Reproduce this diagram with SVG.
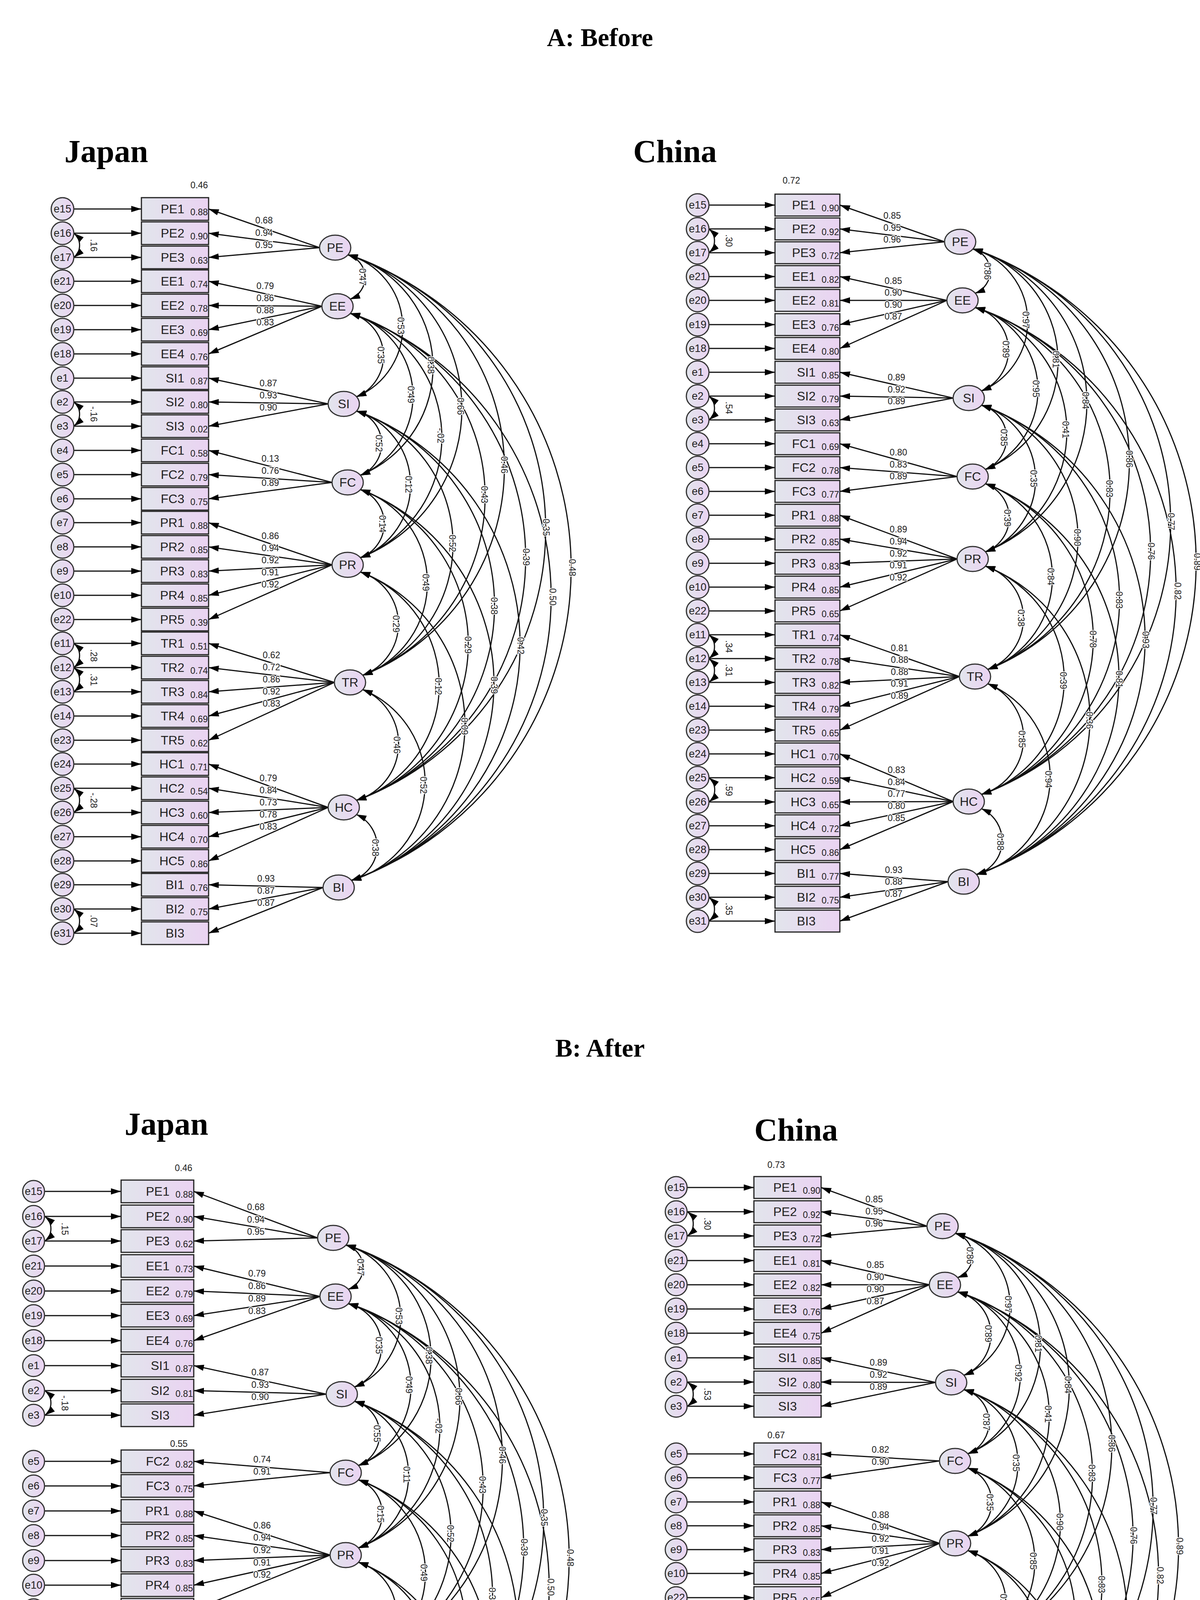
<svg xmlns="http://www.w3.org/2000/svg" width="3072" height="4974" viewBox="0 0 3072 4974">
<style>
text{font-family:"Liberation Sans",Arial,sans-serif;fill:#222}
.ti{font-family:"Liberation Serif","Times New Roman",serif;font-weight:bold;font-size:66px;text-anchor:middle;fill:#000}
.co{font-family:"Liberation Serif","Times New Roman",serif;font-weight:bold;font-size:82px;text-anchor:middle;fill:#000}
.e{fill:url(#g);stroke:#333;stroke-width:3}
.et{font-size:27px;text-anchor:middle}
.b{fill:url(#g);stroke:#222;stroke-width:3}
.it{font-size:32px;text-anchor:end}
.r{font-size:23px;text-anchor:end}
.l{fill:url(#g);stroke:#333;stroke-width:3}
.lt{font-size:32px;text-anchor:middle}
.a{stroke:#111;stroke-width:3;fill:none;marker-end:url(#ah)}
.c{stroke:#111;stroke-width:3;fill:none;marker-end:url(#ah);marker-start:url(#ah)}
.ll{font-size:23px;text-anchor:middle;paint-order:stroke;stroke:#fff;stroke-width:4}
.cl{font-size:23px;text-anchor:middle;paint-order:stroke;stroke:#fff;stroke-width:4}
.sm{font-size:23px;text-anchor:middle}
</style>
<defs>
<linearGradient id="g" x1="0" y1="0" x2="1" y2="0"><stop offset="0" stop-color="#e2e5ec"/><stop offset="1" stop-color="#ead3f2"/></linearGradient>
<marker id="ah" viewBox="0 0 10 10" refX="10" refY="5" markerWidth="26" markerHeight="16" markerUnits="userSpaceOnUse" orient="auto-start-reverse" preserveAspectRatio="none"><path d="M0,0 L10,5 L0,10 z" fill="#000"/></marker>
<g id="arcs">
<path class="c" d="M890 652 A60 60 0 0 1 896 766"/>
<path class="c" d="M890 652 A193 193 0 0 1 912 1016"/>
<path class="c" d="M890 652 A299 299 0 0 1 922 1217"/>
<path class="c" d="M890 652 A411 411 0 0 1 922 1428"/>
<path class="c" d="M890 652 A571 571 0 0 1 928 1729"/>
<path class="c" d="M890 652 A740 740 0 0 1 912 2049"/>
<path class="c" d="M890 652 A849 849 0 0 1 899 2254"/>
<path class="c" d="M896 802 A113 113 0 0 1 912 1016"/>
<path class="c" d="M896 802 A220 220 0 0 1 922 1217"/>
<path class="c" d="M896 802 A332 332 0 0 1 922 1428"/>
<path class="c" d="M896 802 A491 491 0 0 1 928 1729"/>
<path class="c" d="M896 802 A661 661 0 0 1 912 2049"/>
<path class="c" d="M896 802 A770 770 0 0 1 899 2254"/>
<path class="c" d="M912 1052 A87 87 0 0 1 922 1217"/>
<path class="c" d="M912 1052 A199 199 0 0 1 922 1428"/>
<path class="c" d="M912 1052 A359 359 0 0 1 928 1729"/>
<path class="c" d="M912 1052 A528 528 0 0 1 912 2049"/>
<path class="c" d="M912 1052 A637 637 0 0 1 899 2254"/>
<path class="c" d="M922 1253 A93 93 0 0 1 922 1428"/>
<path class="c" d="M922 1253 A252 252 0 0 1 928 1729"/>
<path class="c" d="M922 1253 A422 422 0 0 1 912 2049"/>
<path class="c" d="M922 1253 A531 531 0 0 1 899 2254"/>
<path class="c" d="M922 1464 A140 140 0 0 1 928 1729"/>
<path class="c" d="M922 1464 A310 310 0 0 1 912 2049"/>
<path class="c" d="M922 1464 A419 419 0 0 1 899 2254"/>
<path class="c" d="M928 1765 A151 151 0 0 1 912 2049"/>
<path class="c" d="M928 1765 A259 259 0 0 1 899 2254"/>
<path class="c" d="M912 2085 A90 90 0 0 1 899 2254"/>
</g>
</defs>
<rect width="3072" height="4974" fill="#fff"/>
<text class="ti" x="1536" y="118">A: Before</text>
<text class="ti" x="1536" y="2705">B: After</text>
<text class="co" x="272" y="415">Japan</text>
<text class="co" x="1728" y="415">China</text>
<text class="co" x="426" y="2905">Japan</text>
<text class="co" x="2038" y="2920">China</text>

<g id="connectors">
<use href="#arcs"/>
<use href="#arcs" transform="translate(1600,-15)"/>
<use href="#arcs" transform="translate(-5,2535)"/>
<use href="#arcs" transform="translate(1555,2505)"/>
<!-- AJ error arrows -->
<g>
<line class="a" x1="189" y1="535" x2="362" y2="535"/><line class="a" x1="189" y1="597" x2="362" y2="597"/><line class="a" x1="189" y1="659" x2="362" y2="659"/><line class="a" x1="189" y1="720" x2="362" y2="720"/><line class="a" x1="189" y1="782" x2="362" y2="782"/><line class="a" x1="189" y1="844" x2="362" y2="844"/><line class="a" x1="189" y1="906" x2="362" y2="906"/><line class="a" x1="189" y1="968" x2="362" y2="968"/><line class="a" x1="189" y1="1029" x2="362" y2="1029"/><line class="a" x1="189" y1="1091" x2="362" y2="1091"/><line class="a" x1="189" y1="1153" x2="362" y2="1153"/><line class="a" x1="189" y1="1215" x2="362" y2="1215"/><line class="a" x1="189" y1="1277" x2="362" y2="1277"/><line class="a" x1="189" y1="1338" x2="362" y2="1338"/><line class="a" x1="189" y1="1400" x2="362" y2="1400"/><line class="a" x1="189" y1="1462" x2="362" y2="1462"/><line class="a" x1="189" y1="1524" x2="362" y2="1524"/><line class="a" x1="189" y1="1586" x2="362" y2="1586"/><line class="a" x1="189" y1="1647" x2="362" y2="1647"/><line class="a" x1="189" y1="1709" x2="362" y2="1709"/><line class="a" x1="189" y1="1771" x2="362" y2="1771"/><line class="a" x1="189" y1="1833" x2="362" y2="1833"/><line class="a" x1="189" y1="1895" x2="362" y2="1895"/><line class="a" x1="189" y1="1956" x2="362" y2="1956"/><line class="a" x1="189" y1="2018" x2="362" y2="2018"/><line class="a" x1="189" y1="2080" x2="362" y2="2080"/><line class="a" x1="189" y1="2142" x2="362" y2="2142"/><line class="a" x1="189" y1="2204" x2="362" y2="2204"/><line class="a" x1="189" y1="2265" x2="362" y2="2265"/><line class="a" x1="189" y1="2327" x2="362" y2="2327"/><line class="a" x1="189" y1="2389" x2="362" y2="2389"/>
</g>
<!-- AJ loadings -->
<g>
<line class="a" x1="818" y1="634" x2="534" y2="535"/><line class="a" x1="818" y1="634" x2="534" y2="597"/><line class="a" x1="818" y1="634" x2="534" y2="659"/>
<line class="a" x1="824" y1="784" x2="534" y2="720"/><line class="a" x1="824" y1="784" x2="534" y2="782"/><line class="a" x1="824" y1="784" x2="534" y2="844"/><line class="a" x1="824" y1="784" x2="534" y2="906"/>
<line class="a" x1="840" y1="1034" x2="534" y2="968"/><line class="a" x1="840" y1="1034" x2="534" y2="1029"/><line class="a" x1="840" y1="1034" x2="534" y2="1091"/>
<line class="a" x1="850" y1="1235" x2="534" y2="1153"/><line class="a" x1="850" y1="1235" x2="534" y2="1215"/><line class="a" x1="850" y1="1235" x2="534" y2="1277"/>
<line class="a" x1="850" y1="1446" x2="534" y2="1338"/><line class="a" x1="850" y1="1446" x2="534" y2="1400"/><line class="a" x1="850" y1="1446" x2="534" y2="1462"/><line class="a" x1="850" y1="1446" x2="534" y2="1524"/><line class="a" x1="850" y1="1446" x2="534" y2="1586"/>
<line class="a" x1="856" y1="1747" x2="534" y2="1647"/><line class="a" x1="856" y1="1747" x2="534" y2="1709"/><line class="a" x1="856" y1="1747" x2="534" y2="1771"/><line class="a" x1="856" y1="1747" x2="534" y2="1833"/><line class="a" x1="856" y1="1747" x2="534" y2="1895"/>
<line class="a" x1="840" y1="2067" x2="534" y2="1956"/><line class="a" x1="840" y1="2067" x2="534" y2="2018"/><line class="a" x1="840" y1="2067" x2="534" y2="2080"/><line class="a" x1="840" y1="2067" x2="534" y2="2142"/><line class="a" x1="840" y1="2067" x2="534" y2="2204"/>
<line class="a" x1="827" y1="2272" x2="534" y2="2265"/><line class="a" x1="827" y1="2272" x2="534" y2="2327"/><line class="a" x1="827" y1="2272" x2="534" y2="2389"/>
</g>
<!-- AJ error covariances -->
<g>
<path class="c" d="M189 597 A40 40 0 0 1 189 659"/><path class="c" d="M189 1029 A40 40 0 0 1 189 1091"/><path class="c" d="M189 1647 A40 40 0 0 1 189 1709"/><path class="c" d="M189 1709 A40 40 0 0 1 189 1771"/><path class="c" d="M189 2018 A40 40 0 0 1 189 2080"/><path class="c" d="M189 2327 A40 40 0 0 1 189 2389"/>
</g>
<!-- AC error arrows -->
<g>
<line class="a" x1="1815" y1="525" x2="1984" y2="525"/><line class="a" x1="1815" y1="586" x2="1984" y2="586"/><line class="a" x1="1815" y1="647" x2="1984" y2="647"/><line class="a" x1="1815" y1="708" x2="1984" y2="708"/><line class="a" x1="1815" y1="769" x2="1984" y2="769"/><line class="a" x1="1815" y1="831" x2="1984" y2="831"/><line class="a" x1="1815" y1="892" x2="1984" y2="892"/><line class="a" x1="1815" y1="953" x2="1984" y2="953"/><line class="a" x1="1815" y1="1014" x2="1984" y2="1014"/><line class="a" x1="1815" y1="1075" x2="1984" y2="1075"/><line class="a" x1="1815" y1="1136" x2="1984" y2="1136"/><line class="a" x1="1815" y1="1197" x2="1984" y2="1197"/><line class="a" x1="1815" y1="1258" x2="1984" y2="1258"/><line class="a" x1="1815" y1="1319" x2="1984" y2="1319"/><line class="a" x1="1815" y1="1380" x2="1984" y2="1380"/><line class="a" x1="1815" y1="1442" x2="1984" y2="1442"/><line class="a" x1="1815" y1="1503" x2="1984" y2="1503"/><line class="a" x1="1815" y1="1564" x2="1984" y2="1564"/><line class="a" x1="1815" y1="1625" x2="1984" y2="1625"/><line class="a" x1="1815" y1="1686" x2="1984" y2="1686"/><line class="a" x1="1815" y1="1747" x2="1984" y2="1747"/><line class="a" x1="1815" y1="1808" x2="1984" y2="1808"/><line class="a" x1="1815" y1="1869" x2="1984" y2="1869"/><line class="a" x1="1815" y1="1930" x2="1984" y2="1930"/><line class="a" x1="1815" y1="1991" x2="1984" y2="1991"/><line class="a" x1="1815" y1="2053" x2="1984" y2="2053"/><line class="a" x1="1815" y1="2114" x2="1984" y2="2114"/><line class="a" x1="1815" y1="2175" x2="1984" y2="2175"/><line class="a" x1="1815" y1="2236" x2="1984" y2="2236"/><line class="a" x1="1815" y1="2297" x2="1984" y2="2297"/><line class="a" x1="1815" y1="2358" x2="1984" y2="2358"/>
</g>
<!-- AC loadings -->
<g>
<line class="a" x1="2418" y1="619" x2="2150" y2="525"/><line class="a" x1="2418" y1="619" x2="2150" y2="586"/><line class="a" x1="2418" y1="619" x2="2150" y2="647"/>
<line class="a" x1="2424" y1="769" x2="2150" y2="708"/><line class="a" x1="2424" y1="769" x2="2150" y2="769"/><line class="a" x1="2424" y1="769" x2="2150" y2="831"/><line class="a" x1="2424" y1="769" x2="2150" y2="892"/>
<line class="a" x1="2440" y1="1019" x2="2150" y2="953"/><line class="a" x1="2440" y1="1019" x2="2150" y2="1014"/><line class="a" x1="2440" y1="1019" x2="2150" y2="1075"/>
<line class="a" x1="2450" y1="1220" x2="2150" y2="1136"/><line class="a" x1="2450" y1="1220" x2="2150" y2="1197"/><line class="a" x1="2450" y1="1220" x2="2150" y2="1258"/>
<line class="a" x1="2450" y1="1431" x2="2150" y2="1319"/><line class="a" x1="2450" y1="1431" x2="2150" y2="1380"/><line class="a" x1="2450" y1="1431" x2="2150" y2="1442"/><line class="a" x1="2450" y1="1431" x2="2150" y2="1503"/><line class="a" x1="2450" y1="1431" x2="2150" y2="1564"/>
<line class="a" x1="2456" y1="1732" x2="2150" y2="1625"/><line class="a" x1="2456" y1="1732" x2="2150" y2="1686"/><line class="a" x1="2456" y1="1732" x2="2150" y2="1747"/><line class="a" x1="2456" y1="1732" x2="2150" y2="1808"/><line class="a" x1="2456" y1="1732" x2="2150" y2="1869"/>
<line class="a" x1="2440" y1="2052" x2="2150" y2="1930"/><line class="a" x1="2440" y1="2052" x2="2150" y2="1991"/><line class="a" x1="2440" y1="2052" x2="2150" y2="2053"/><line class="a" x1="2440" y1="2052" x2="2150" y2="2114"/><line class="a" x1="2440" y1="2052" x2="2150" y2="2175"/>
<line class="a" x1="2427" y1="2257" x2="2150" y2="2236"/><line class="a" x1="2427" y1="2257" x2="2150" y2="2297"/><line class="a" x1="2427" y1="2257" x2="2150" y2="2358"/>
</g>
<g>
<path class="c" d="M1815 586 A40 40 0 0 1 1815 647"/><path class="c" d="M1815 1014 A40 40 0 0 1 1815 1075"/><path class="c" d="M1815 1625 A40 40 0 0 1 1815 1686"/><path class="c" d="M1815 1686 A40 40 0 0 1 1815 1747"/><path class="c" d="M1815 1991 A40 40 0 0 1 1815 2053"/><path class="c" d="M1815 2297 A40 40 0 0 1 1815 2358"/>
</g>
<!-- BJ error arrows -->
<g>
<line class="a" x1="115" y1="3050" x2="310" y2="3050"/><line class="a" x1="115" y1="3114" x2="310" y2="3114"/><line class="a" x1="115" y1="3177" x2="310" y2="3177"/><line class="a" x1="115" y1="3241" x2="310" y2="3241"/><line class="a" x1="115" y1="3305" x2="310" y2="3305"/><line class="a" x1="115" y1="3368" x2="310" y2="3368"/><line class="a" x1="115" y1="3432" x2="310" y2="3432"/><line class="a" x1="115" y1="3496" x2="310" y2="3496"/><line class="a" x1="115" y1="3560" x2="310" y2="3560"/><line class="a" x1="115" y1="3623" x2="310" y2="3623"/><line class="a" x1="115" y1="3741" x2="310" y2="3741"/><line class="a" x1="115" y1="3804" x2="310" y2="3804"/><line class="a" x1="115" y1="3868" x2="310" y2="3868"/><line class="a" x1="115" y1="3931" x2="310" y2="3931"/><line class="a" x1="115" y1="3995" x2="310" y2="3995"/><line class="a" x1="115" y1="4058" x2="310" y2="4058"/><line class="a" x1="115" y1="4121" x2="310" y2="4121"/><line class="a" x1="115" y1="4185" x2="310" y2="4185"/><line class="a" x1="115" y1="4248" x2="310" y2="4248"/><line class="a" x1="115" y1="4312" x2="310" y2="4312"/><line class="a" x1="115" y1="4375" x2="310" y2="4375"/><line class="a" x1="115" y1="4439" x2="310" y2="4439"/><line class="a" x1="115" y1="4502" x2="310" y2="4502"/><line class="a" x1="115" y1="4566" x2="310" y2="4566"/><line class="a" x1="115" y1="4629" x2="310" y2="4629"/><line class="a" x1="115" y1="4692" x2="310" y2="4692"/><line class="a" x1="115" y1="4756" x2="310" y2="4756"/><line class="a" x1="115" y1="4819" x2="310" y2="4819"/><line class="a" x1="115" y1="4883" x2="310" y2="4883"/><line class="a" x1="115" y1="4944" x2="310" y2="4944"/>
</g>
<g>
<line class="a" x1="813" y1="3169" x2="496" y2="3050"/><line class="a" x1="813" y1="3169" x2="496" y2="3114"/><line class="a" x1="813" y1="3169" x2="496" y2="3177"/>
<line class="a" x1="819" y1="3319" x2="496" y2="3241"/><line class="a" x1="819" y1="3319" x2="496" y2="3305"/><line class="a" x1="819" y1="3319" x2="496" y2="3368"/><line class="a" x1="819" y1="3319" x2="496" y2="3432"/>
<line class="a" x1="835" y1="3569" x2="496" y2="3496"/><line class="a" x1="835" y1="3569" x2="496" y2="3560"/><line class="a" x1="835" y1="3569" x2="496" y2="3623"/>
<line class="a" x1="845" y1="3770" x2="496" y2="3741"/><line class="a" x1="845" y1="3770" x2="496" y2="3804"/>
<line class="a" x1="845" y1="3981" x2="496" y2="3868"/><line class="a" x1="845" y1="3981" x2="496" y2="3931"/><line class="a" x1="845" y1="3981" x2="496" y2="3995"/><line class="a" x1="845" y1="3981" x2="496" y2="4058"/><line class="a" x1="845" y1="3981" x2="496" y2="4121"/>
<line class="a" x1="851" y1="4282" x2="496" y2="4185"/><line class="a" x1="851" y1="4282" x2="496" y2="4248"/><line class="a" x1="851" y1="4282" x2="496" y2="4312"/><line class="a" x1="851" y1="4282" x2="496" y2="4375"/><line class="a" x1="851" y1="4282" x2="496" y2="4439"/>
<line class="a" x1="835" y1="4602" x2="496" y2="4502"/><line class="a" x1="835" y1="4602" x2="496" y2="4566"/><line class="a" x1="835" y1="4602" x2="496" y2="4629"/><line class="a" x1="835" y1="4602" x2="496" y2="4692"/><line class="a" x1="835" y1="4602" x2="496" y2="4756"/>
<line class="a" x1="822" y1="4807" x2="496" y2="4819"/><line class="a" x1="822" y1="4807" x2="496" y2="4883"/><line class="a" x1="822" y1="4807" x2="496" y2="4944"/>
</g>
<g>
<path class="c" d="M115 3114 A40 40 0 0 1 115 3177"/><path class="c" d="M115 3560 A40 40 0 0 1 115 3623"/><path class="c" d="M115 4185 A40 40 0 0 1 115 4248"/><path class="c" d="M115 4248 A40 40 0 0 1 115 4312"/><path class="c" d="M115 4502 A40 40 0 0 1 115 4566"/><path class="c" d="M115 4883 A40 40 0 0 1 115 4944"/>
</g>
<!-- BC error arrows -->
<g>
<line class="a" x1="1760" y1="3040" x2="1930" y2="3040"/><line class="a" x1="1760" y1="3102" x2="1930" y2="3102"/><line class="a" x1="1760" y1="3164" x2="1930" y2="3164"/><line class="a" x1="1760" y1="3227" x2="1930" y2="3227"/><line class="a" x1="1760" y1="3289" x2="1930" y2="3289"/><line class="a" x1="1760" y1="3351" x2="1930" y2="3351"/><line class="a" x1="1760" y1="3413" x2="1930" y2="3413"/><line class="a" x1="1760" y1="3476" x2="1930" y2="3476"/><line class="a" x1="1760" y1="3538" x2="1930" y2="3538"/><line class="a" x1="1760" y1="3600" x2="1930" y2="3600"/><line class="a" x1="1760" y1="3722" x2="1930" y2="3722"/><line class="a" x1="1760" y1="3783" x2="1930" y2="3783"/><line class="a" x1="1760" y1="3845" x2="1930" y2="3845"/><line class="a" x1="1760" y1="3906" x2="1930" y2="3906"/><line class="a" x1="1760" y1="3967" x2="1930" y2="3967"/><line class="a" x1="1760" y1="4028" x2="1930" y2="4028"/><line class="a" x1="1760" y1="4090" x2="1930" y2="4090"/><line class="a" x1="1760" y1="4151" x2="1930" y2="4151"/><line class="a" x1="1760" y1="4212" x2="1930" y2="4212"/><line class="a" x1="1760" y1="4273" x2="1930" y2="4273"/><line class="a" x1="1760" y1="4335" x2="1930" y2="4335"/><line class="a" x1="1760" y1="4396" x2="1930" y2="4396"/><line class="a" x1="1760" y1="4457" x2="1930" y2="4457"/><line class="a" x1="1760" y1="4519" x2="1930" y2="4519"/><line class="a" x1="1760" y1="4580" x2="1930" y2="4580"/><line class="a" x1="1760" y1="4641" x2="1930" y2="4641"/><line class="a" x1="1760" y1="4702" x2="1930" y2="4702"/><line class="a" x1="1760" y1="4764" x2="1930" y2="4764"/><line class="a" x1="1760" y1="4825" x2="1930" y2="4825"/><line class="a" x1="1760" y1="4886" x2="1930" y2="4886"/>
</g>
<g>
<line class="a" x1="2373" y1="3139" x2="2102" y2="3040"/><line class="a" x1="2373" y1="3139" x2="2102" y2="3102"/><line class="a" x1="2373" y1="3139" x2="2102" y2="3164"/>
<line class="a" x1="2379" y1="3289" x2="2102" y2="3227"/><line class="a" x1="2379" y1="3289" x2="2102" y2="3289"/><line class="a" x1="2379" y1="3289" x2="2102" y2="3351"/><line class="a" x1="2379" y1="3289" x2="2102" y2="3413"/>
<line class="a" x1="2395" y1="3539" x2="2102" y2="3476"/><line class="a" x1="2395" y1="3539" x2="2102" y2="3538"/><line class="a" x1="2395" y1="3539" x2="2102" y2="3600"/>
<line class="a" x1="2405" y1="3740" x2="2102" y2="3722"/><line class="a" x1="2405" y1="3740" x2="2102" y2="3783"/>
<line class="a" x1="2405" y1="3951" x2="2102" y2="3845"/><line class="a" x1="2405" y1="3951" x2="2102" y2="3906"/><line class="a" x1="2405" y1="3951" x2="2102" y2="3967"/><line class="a" x1="2405" y1="3951" x2="2102" y2="4028"/><line class="a" x1="2405" y1="3951" x2="2102" y2="4090"/>
<line class="a" x1="2411" y1="4252" x2="2102" y2="4151"/><line class="a" x1="2411" y1="4252" x2="2102" y2="4212"/><line class="a" x1="2411" y1="4252" x2="2102" y2="4273"/><line class="a" x1="2411" y1="4252" x2="2102" y2="4335"/><line class="a" x1="2411" y1="4252" x2="2102" y2="4396"/>
<line class="a" x1="2395" y1="4572" x2="2102" y2="4457"/><line class="a" x1="2395" y1="4572" x2="2102" y2="4519"/><line class="a" x1="2395" y1="4572" x2="2102" y2="4580"/><line class="a" x1="2395" y1="4572" x2="2102" y2="4641"/><line class="a" x1="2395" y1="4572" x2="2102" y2="4702"/>
<line class="a" x1="2382" y1="4777" x2="2102" y2="4764"/><line class="a" x1="2382" y1="4777" x2="2102" y2="4825"/><line class="a" x1="2382" y1="4777" x2="2102" y2="4886"/>
</g>
<g>
<path class="c" d="M1760 3102 A40 40 0 0 1 1760 3164"/><path class="c" d="M1760 3538 A40 40 0 0 1 1760 3600"/><path class="c" d="M1760 4151 A40 40 0 0 1 1760 4212"/><path class="c" d="M1760 4212 A40 40 0 0 1 1760 4273"/><path class="c" d="M1760 4519 A40 40 0 0 1 1760 4580"/><path class="c" d="M1760 4825 A40 40 0 0 1 1760 4886"/>
</g>
</g>

<!-- ===== Panel A Japan nodes ===== -->
<g id="AJ">
<g id="aj-e"><circle class="e" cx="160" cy="535" r="29"/><text class="et" x="160" y="544">e15</text><circle class="e" cx="160" cy="597" r="29"/><text class="et" x="160" y="606">e16</text><circle class="e" cx="160" cy="659" r="29"/><text class="et" x="160" y="668">e17</text><circle class="e" cx="160" cy="720" r="29"/><text class="et" x="160" y="729">e21</text><circle class="e" cx="160" cy="782" r="29"/><text class="et" x="160" y="791">e20</text><circle class="e" cx="160" cy="844" r="29"/><text class="et" x="160" y="853">e19</text><circle class="e" cx="160" cy="906" r="29"/><text class="et" x="160" y="915">e18</text><circle class="e" cx="160" cy="968" r="29"/><text class="et" x="160" y="977">e1</text><circle class="e" cx="160" cy="1029" r="29"/><text class="et" x="160" y="1038">e2</text><circle class="e" cx="160" cy="1091" r="29"/><text class="et" x="160" y="1100">e3</text><circle class="e" cx="160" cy="1153" r="29"/><text class="et" x="160" y="1162">e4</text><circle class="e" cx="160" cy="1215" r="29"/><text class="et" x="160" y="1224">e5</text><circle class="e" cx="160" cy="1277" r="29"/><text class="et" x="160" y="1286">e6</text><circle class="e" cx="160" cy="1338" r="29"/><text class="et" x="160" y="1347">e7</text><circle class="e" cx="160" cy="1400" r="29"/><text class="et" x="160" y="1409">e8</text><circle class="e" cx="160" cy="1462" r="29"/><text class="et" x="160" y="1471">e9</text><circle class="e" cx="160" cy="1524" r="29"/><text class="et" x="160" y="1533">e10</text><circle class="e" cx="160" cy="1586" r="29"/><text class="et" x="160" y="1595">e22</text><circle class="e" cx="160" cy="1647" r="29"/><text class="et" x="160" y="1656">e11</text><circle class="e" cx="160" cy="1709" r="29"/><text class="et" x="160" y="1718">e12</text><circle class="e" cx="160" cy="1771" r="29"/><text class="et" x="160" y="1780">e13</text><circle class="e" cx="160" cy="1833" r="29"/><text class="et" x="160" y="1842">e14</text><circle class="e" cx="160" cy="1895" r="29"/><text class="et" x="160" y="1904">e23</text><circle class="e" cx="160" cy="1956" r="29"/><text class="et" x="160" y="1965">e24</text><circle class="e" cx="160" cy="2018" r="29"/><text class="et" x="160" y="2027">e25</text><circle class="e" cx="160" cy="2080" r="29"/><text class="et" x="160" y="2089">e26</text><circle class="e" cx="160" cy="2142" r="29"/><text class="et" x="160" y="2151">e27</text><circle class="e" cx="160" cy="2204" r="29"/><text class="et" x="160" y="2213">e28</text><circle class="e" cx="160" cy="2265" r="29"/><text class="et" x="160" y="2274">e29</text><circle class="e" cx="160" cy="2327" r="29"/><text class="et" x="160" y="2336">e30</text><circle class="e" cx="160" cy="2389" r="29"/><text class="et" x="160" y="2398">e31</text></g>
<g id="aj-boxes">
<rect class="b" x="362" y="506" width="172" height="58"/><text class="it" x="472" y="546">PE1</text><text class="r" x="532" y="551">0.88</text>
<rect class="b" x="362" y="568" width="172" height="58"/><text class="it" x="472" y="608">PE2</text><text class="r" x="532" y="613">0.90</text>
<rect class="b" x="362" y="630" width="172" height="58"/><text class="it" x="472" y="670">PE3</text><text class="r" x="532" y="675">0.63</text>
<rect class="b" x="362" y="691" width="172" height="58"/><text class="it" x="472" y="731">EE1</text><text class="r" x="532" y="736">0.74</text>
<rect class="b" x="362" y="753" width="172" height="58"/><text class="it" x="472" y="793">EE2</text><text class="r" x="532" y="798">0.78</text>
<rect class="b" x="362" y="815" width="172" height="58"/><text class="it" x="472" y="855">EE3</text><text class="r" x="532" y="860">0.69</text>
<rect class="b" x="362" y="877" width="172" height="58"/><text class="it" x="472" y="917">EE4</text><text class="r" x="532" y="922">0.76</text>
<rect class="b" x="362" y="939" width="172" height="58"/><text class="it" x="472" y="979">SI1</text><text class="r" x="532" y="984">0.87</text>
<rect class="b" x="362" y="1000" width="172" height="58"/><text class="it" x="472" y="1040">SI2</text><text class="r" x="532" y="1045">0.80</text>
<rect class="b" x="362" y="1062" width="172" height="58"/><text class="it" x="472" y="1102">SI3</text><text class="r" x="532" y="1107">0.02</text>
<rect class="b" x="362" y="1124" width="172" height="58"/><text class="it" x="472" y="1164">FC1</text><text class="r" x="532" y="1169">0.58</text>
<rect class="b" x="362" y="1186" width="172" height="58"/><text class="it" x="472" y="1226">FC2</text><text class="r" x="532" y="1231">0.79</text>
<rect class="b" x="362" y="1248" width="172" height="58"/><text class="it" x="472" y="1288">FC3</text><text class="r" x="532" y="1293">0.75</text>
<rect class="b" x="362" y="1309" width="172" height="58"/><text class="it" x="472" y="1349">PR1</text><text class="r" x="532" y="1354">0.88</text>
<rect class="b" x="362" y="1371" width="172" height="58"/><text class="it" x="472" y="1411">PR2</text><text class="r" x="532" y="1416">0.85</text>
<rect class="b" x="362" y="1433" width="172" height="58"/><text class="it" x="472" y="1473">PR3</text><text class="r" x="532" y="1478">0.83</text>
<rect class="b" x="362" y="1495" width="172" height="58"/><text class="it" x="472" y="1535">PR4</text><text class="r" x="532" y="1540">0.85</text>
<rect class="b" x="362" y="1557" width="172" height="58"/><text class="it" x="472" y="1597">PR5</text><text class="r" x="532" y="1602">0.39</text>
<rect class="b" x="362" y="1618" width="172" height="58"/><text class="it" x="472" y="1658">TR1</text><text class="r" x="532" y="1663">0.51</text>
<rect class="b" x="362" y="1680" width="172" height="58"/><text class="it" x="472" y="1720">TR2</text><text class="r" x="532" y="1725">0.74</text>
<rect class="b" x="362" y="1742" width="172" height="58"/><text class="it" x="472" y="1782">TR3</text><text class="r" x="532" y="1787">0.84</text>
<rect class="b" x="362" y="1804" width="172" height="58"/><text class="it" x="472" y="1844">TR4</text><text class="r" x="532" y="1849">0.69</text>
<rect class="b" x="362" y="1866" width="172" height="58"/><text class="it" x="472" y="1906">TR5</text><text class="r" x="532" y="1911">0.62</text>
<rect class="b" x="362" y="1927" width="172" height="58"/><text class="it" x="472" y="1967">HC1</text><text class="r" x="532" y="1972">0.71</text>
<rect class="b" x="362" y="1989" width="172" height="58"/><text class="it" x="472" y="2029">HC2</text><text class="r" x="532" y="2034">0.54</text>
<rect class="b" x="362" y="2051" width="172" height="58"/><text class="it" x="472" y="2091">HC3</text><text class="r" x="532" y="2096">0.60</text>
<rect class="b" x="362" y="2113" width="172" height="58"/><text class="it" x="472" y="2153">HC4</text><text class="r" x="532" y="2158">0.70</text>
<rect class="b" x="362" y="2175" width="172" height="58"/><text class="it" x="472" y="2215">HC5</text><text class="r" x="532" y="2220">0.86</text>
<rect class="b" x="362" y="2236" width="172" height="58"/><text class="it" x="472" y="2276">BI1</text><text class="r" x="532" y="2281">0.76</text>
<rect class="b" x="362" y="2298" width="172" height="58"/><text class="it" x="472" y="2338">BI2</text><text class="r" x="532" y="2343">0.75</text>
<rect class="b" x="362" y="2360" width="172" height="58"/><text class="it" x="472" y="2400">BI3</text>
<text class="sm" x="510" y="482">0.46</text>
</g>
<g id="aj-ll">
<text class="ll" x="676" y="572">0.68</text><text class="ll" x="676" y="604">0.94</text><text class="ll" x="676" y="635">0.95</text>
<text class="ll" x="679" y="740">0.79</text><text class="ll" x="679" y="771">0.86</text><text class="ll" x="679" y="802">0.88</text><text class="ll" x="679" y="833">0.83</text>
<text class="ll" x="687" y="989">0.87</text><text class="ll" x="687" y="1020">0.93</text><text class="ll" x="687" y="1051">0.90</text>
<text class="ll" x="692" y="1182">0.13</text><text class="ll" x="692" y="1213">0.76</text><text class="ll" x="692" y="1244">0.89</text>
<text class="ll" x="692" y="1380">0.86</text><text class="ll" x="692" y="1411">0.94</text><text class="ll" x="692" y="1442">0.92</text><text class="ll" x="692" y="1473">0.91</text><text class="ll" x="692" y="1504">0.92</text>
<text class="ll" x="695" y="1685">0.62</text><text class="ll" x="695" y="1716">0.72</text><text class="ll" x="695" y="1747">0.86</text><text class="ll" x="695" y="1778">0.92</text><text class="ll" x="695" y="1809">0.83</text>
<text class="ll" x="687" y="2000">0.79</text><text class="ll" x="687" y="2031">0.84</text><text class="ll" x="687" y="2062">0.73</text><text class="ll" x="687" y="2093">0.78</text><text class="ll" x="687" y="2124">0.83</text>
<text class="ll" x="681" y="2257">0.93</text><text class="ll" x="681" y="2288">0.87</text><text class="ll" x="681" y="2319">0.87</text>
<text class="sm" transform="translate(232,628) rotate(90)">.16</text><text class="sm" transform="translate(232,1060) rotate(90)">-.16</text><text class="sm" transform="translate(232,1678) rotate(90)">.28</text><text class="sm" transform="translate(232,1740) rotate(90)">.31</text><text class="sm" transform="translate(232,2049) rotate(90)">-.28</text><text class="sm" transform="translate(232,2358) rotate(90)">.07</text>
</g>
<g id="aj-latent">
<g id="aj-PE"><ellipse class="l" cx="858" cy="634" rx="40" ry="32"/><text class="lt" x="858" y="645">PE</text></g>
<g id="aj-EE"><ellipse class="l" cx="864" cy="784" rx="40" ry="32"/><text class="lt" x="864" y="795">EE</text></g>
<g id="aj-SI"><ellipse class="l" cx="880" cy="1034" rx="40" ry="32"/><text class="lt" x="880" y="1045">SI</text></g>
<g id="aj-FC"><ellipse class="l" cx="890" cy="1235" rx="40" ry="32"/><text class="lt" x="890" y="1246">FC</text></g>
<g id="aj-PR"><ellipse class="l" cx="890" cy="1446" rx="40" ry="32"/><text class="lt" x="890" y="1457">PR</text></g>
<g id="aj-TR"><ellipse class="l" cx="896" cy="1747" rx="40" ry="32"/><text class="lt" x="896" y="1758">TR</text></g>
<g id="aj-HC"><ellipse class="l" cx="880" cy="2067" rx="40" ry="32"/><text class="lt" x="880" y="2078">HC</text></g>
<g id="aj-BI"><ellipse class="l" cx="867" cy="2272" rx="40" ry="32"/><text class="lt" x="867" y="2283">BI</text></g>
<g class="corr">
<text class="cl" transform="translate(920,709) rotate(90)">0.47</text><text class="cl" transform="translate(1018,834) rotate(90)">0.53</text><text class="cl" transform="translate(1095,935) rotate(90)">0.38</text><text class="cl" transform="translate(1171,1040) rotate(90)">0.66</text><text class="cl" transform="translate(1283,1190) rotate(90)">0.46</text><text class="cl" transform="translate(1390,1350) rotate(90)">0.35</text><text class="cl" transform="translate(1457,1453) rotate(90)">0.48</text>
<text class="cl" transform="translate(967,909) rotate(90)">0.35</text><text class="cl" transform="translate(1044,1010) rotate(90)">0.49</text><text class="cl" transform="translate(1120,1115) rotate(90)">-.02</text><text class="cl" transform="translate(1232,1266) rotate(90)">0.43</text><text class="cl" transform="translate(1339,1426) rotate(90)">0.39</text><text class="cl" transform="translate(1407,1528) rotate(90)">0.50</text>
<text class="cl" transform="translate(962,1135) rotate(90)">0.52</text><text class="cl" transform="translate(1038,1240) rotate(90)">0.12</text><text class="cl" transform="translate(1150,1391) rotate(90)">0.52</text><text class="cl" transform="translate(1257,1551) rotate(90)">0.38</text><text class="cl" transform="translate(1325,1653) rotate(90)">0.42</text>
<text class="cl" transform="translate(971,1341) rotate(90)">0.14</text><text class="cl" transform="translate(1082,1491) rotate(90)">0.49</text><text class="cl" transform="translate(1190,1651) rotate(90)">0.29</text><text class="cl" transform="translate(1257,1754) rotate(90)">0.39</text>
<text class="cl" transform="translate(1006,1597) rotate(90)">0.29</text><text class="cl" transform="translate(1114,1757) rotate(90)">0.12</text><text class="cl" transform="translate(1181,1859) rotate(90)">0.09</text>
<text class="cl" transform="translate(1008,1907) rotate(90)">0.46</text><text class="cl" transform="translate(1076,2010) rotate(90)">0.52</text><text class="cl" transform="translate(953,2170) rotate(90)">0.38</text>
</g>
</g>
</g>

<!-- ===== Panel A China ===== -->
<g id="AC">
<g id="ac-e"><circle class="e" cx="1786" cy="525" r="29"/><text class="et" x="1786" y="534">e15</text><circle class="e" cx="1786" cy="586" r="29"/><text class="et" x="1786" y="595">e16</text><circle class="e" cx="1786" cy="647" r="29"/><text class="et" x="1786" y="656">e17</text><circle class="e" cx="1786" cy="708" r="29"/><text class="et" x="1786" y="717">e21</text><circle class="e" cx="1786" cy="769" r="29"/><text class="et" x="1786" y="778">e20</text><circle class="e" cx="1786" cy="831" r="29"/><text class="et" x="1786" y="840">e19</text><circle class="e" cx="1786" cy="892" r="29"/><text class="et" x="1786" y="901">e18</text><circle class="e" cx="1786" cy="953" r="29"/><text class="et" x="1786" y="962">e1</text><circle class="e" cx="1786" cy="1014" r="29"/><text class="et" x="1786" y="1023">e2</text><circle class="e" cx="1786" cy="1075" r="29"/><text class="et" x="1786" y="1084">e3</text><circle class="e" cx="1786" cy="1136" r="29"/><text class="et" x="1786" y="1145">e4</text><circle class="e" cx="1786" cy="1197" r="29"/><text class="et" x="1786" y="1206">e5</text><circle class="e" cx="1786" cy="1258" r="29"/><text class="et" x="1786" y="1267">e6</text><circle class="e" cx="1786" cy="1319" r="29"/><text class="et" x="1786" y="1328">e7</text><circle class="e" cx="1786" cy="1380" r="29"/><text class="et" x="1786" y="1389">e8</text><circle class="e" cx="1786" cy="1442" r="29"/><text class="et" x="1786" y="1451">e9</text><circle class="e" cx="1786" cy="1503" r="29"/><text class="et" x="1786" y="1512">e10</text><circle class="e" cx="1786" cy="1564" r="29"/><text class="et" x="1786" y="1573">e22</text><circle class="e" cx="1786" cy="1625" r="29"/><text class="et" x="1786" y="1634">e11</text><circle class="e" cx="1786" cy="1686" r="29"/><text class="et" x="1786" y="1695">e12</text><circle class="e" cx="1786" cy="1747" r="29"/><text class="et" x="1786" y="1756">e13</text><circle class="e" cx="1786" cy="1808" r="29"/><text class="et" x="1786" y="1817">e14</text><circle class="e" cx="1786" cy="1869" r="29"/><text class="et" x="1786" y="1878">e23</text><circle class="e" cx="1786" cy="1930" r="29"/><text class="et" x="1786" y="1939">e24</text><circle class="e" cx="1786" cy="1991" r="29"/><text class="et" x="1786" y="2000">e25</text><circle class="e" cx="1786" cy="2053" r="29"/><text class="et" x="1786" y="2062">e26</text><circle class="e" cx="1786" cy="2114" r="29"/><text class="et" x="1786" y="2123">e27</text><circle class="e" cx="1786" cy="2175" r="29"/><text class="et" x="1786" y="2184">e28</text><circle class="e" cx="1786" cy="2236" r="29"/><text class="et" x="1786" y="2245">e29</text><circle class="e" cx="1786" cy="2297" r="29"/><text class="et" x="1786" y="2306">e30</text><circle class="e" cx="1786" cy="2358" r="29"/><text class="et" x="1786" y="2367">e31</text></g>
<g id="ac-boxes">
<rect class="b" x="1984" y="497" width="166" height="56"/><text class="it" x="2088" y="536">PE1</text><text class="r" x="2148" y="541">0.90</text>
<rect class="b" x="1984" y="558" width="166" height="56"/><text class="it" x="2088" y="597">PE2</text><text class="r" x="2148" y="602">0.92</text>
<rect class="b" x="1984" y="619" width="166" height="56"/><text class="it" x="2088" y="658">PE3</text><text class="r" x="2148" y="663">0.72</text>
<rect class="b" x="1984" y="680" width="166" height="56"/><text class="it" x="2088" y="719">EE1</text><text class="r" x="2148" y="724">0.82</text>
<rect class="b" x="1984" y="741" width="166" height="56"/><text class="it" x="2088" y="780">EE2</text><text class="r" x="2148" y="785">0.81</text>
<rect class="b" x="1984" y="803" width="166" height="56"/><text class="it" x="2088" y="842">EE3</text><text class="r" x="2148" y="847">0.76</text>
<rect class="b" x="1984" y="864" width="166" height="56"/><text class="it" x="2088" y="903">EE4</text><text class="r" x="2148" y="908">0.80</text>
<rect class="b" x="1984" y="925" width="166" height="56"/><text class="it" x="2088" y="964">SI1</text><text class="r" x="2148" y="969">0.85</text>
<rect class="b" x="1984" y="986" width="166" height="56"/><text class="it" x="2088" y="1025">SI2</text><text class="r" x="2148" y="1030">0.79</text>
<rect class="b" x="1984" y="1047" width="166" height="56"/><text class="it" x="2088" y="1086">SI3</text><text class="r" x="2148" y="1091">0.63</text>
<rect class="b" x="1984" y="1108" width="166" height="56"/><text class="it" x="2088" y="1147">FC1</text><text class="r" x="2148" y="1152">0.69</text>
<rect class="b" x="1984" y="1169" width="166" height="56"/><text class="it" x="2088" y="1208">FC2</text><text class="r" x="2148" y="1213">0.78</text>
<rect class="b" x="1984" y="1230" width="166" height="56"/><text class="it" x="2088" y="1269">FC3</text><text class="r" x="2148" y="1274">0.77</text>
<rect class="b" x="1984" y="1291" width="166" height="56"/><text class="it" x="2088" y="1330">PR1</text><text class="r" x="2148" y="1335">0.88</text>
<rect class="b" x="1984" y="1352" width="166" height="56"/><text class="it" x="2088" y="1391">PR2</text><text class="r" x="2148" y="1396">0.85</text>
<rect class="b" x="1984" y="1414" width="166" height="56"/><text class="it" x="2088" y="1453">PR3</text><text class="r" x="2148" y="1458">0.83</text>
<rect class="b" x="1984" y="1475" width="166" height="56"/><text class="it" x="2088" y="1514">PR4</text><text class="r" x="2148" y="1519">0.85</text>
<rect class="b" x="1984" y="1536" width="166" height="56"/><text class="it" x="2088" y="1575">PR5</text><text class="r" x="2148" y="1580">0.65</text>
<rect class="b" x="1984" y="1597" width="166" height="56"/><text class="it" x="2088" y="1636">TR1</text><text class="r" x="2148" y="1641">0.74</text>
<rect class="b" x="1984" y="1658" width="166" height="56"/><text class="it" x="2088" y="1697">TR2</text><text class="r" x="2148" y="1702">0.78</text>
<rect class="b" x="1984" y="1719" width="166" height="56"/><text class="it" x="2088" y="1758">TR3</text><text class="r" x="2148" y="1763">0.82</text>
<rect class="b" x="1984" y="1780" width="166" height="56"/><text class="it" x="2088" y="1819">TR4</text><text class="r" x="2148" y="1824">0.79</text>
<rect class="b" x="1984" y="1841" width="166" height="56"/><text class="it" x="2088" y="1880">TR5</text><text class="r" x="2148" y="1885">0.65</text>
<rect class="b" x="1984" y="1902" width="166" height="56"/><text class="it" x="2088" y="1941">HC1</text><text class="r" x="2148" y="1946">0.70</text>
<rect class="b" x="1984" y="1963" width="166" height="56"/><text class="it" x="2088" y="2002">HC2</text><text class="r" x="2148" y="2007">0.59</text>
<rect class="b" x="1984" y="2025" width="166" height="56"/><text class="it" x="2088" y="2064">HC3</text><text class="r" x="2148" y="2069">0.65</text>
<rect class="b" x="1984" y="2086" width="166" height="56"/><text class="it" x="2088" y="2125">HC4</text><text class="r" x="2148" y="2130">0.72</text>
<rect class="b" x="1984" y="2147" width="166" height="56"/><text class="it" x="2088" y="2186">HC5</text><text class="r" x="2148" y="2191">0.86</text>
<rect class="b" x="1984" y="2208" width="166" height="56"/><text class="it" x="2088" y="2247">BI1</text><text class="r" x="2148" y="2252">0.77</text>
<rect class="b" x="1984" y="2269" width="166" height="56"/><text class="it" x="2088" y="2308">BI2</text><text class="r" x="2148" y="2313">0.75</text>
<rect class="b" x="1984" y="2330" width="166" height="56"/><text class="it" x="2088" y="2369">BI3</text>
<text class="sm" x="2026" y="470">0.72</text>
</g>
<g id="ac-ll">
<text class="ll" x="2284" y="560">0.85</text><text class="ll" x="2284" y="591">0.95</text><text class="ll" x="2284" y="621">0.96</text>
<text class="ll" x="2287" y="727">0.85</text><text class="ll" x="2287" y="757">0.90</text><text class="ll" x="2287" y="788">0.90</text><text class="ll" x="2287" y="818">0.87</text>
<text class="ll" x="2295" y="974">0.89</text><text class="ll" x="2295" y="1005">0.92</text><text class="ll" x="2295" y="1035">0.89</text>
<text class="ll" x="2300" y="1166">0.80</text><text class="ll" x="2300" y="1197">0.83</text><text class="ll" x="2300" y="1227">0.89</text>
<text class="ll" x="2300" y="1363">0.89</text><text class="ll" x="2300" y="1394">0.94</text><text class="ll" x="2300" y="1425">0.92</text><text class="ll" x="2300" y="1455">0.91</text><text class="ll" x="2300" y="1486">0.92</text>
<text class="ll" x="2303" y="1667">0.81</text><text class="ll" x="2303" y="1697">0.88</text><text class="ll" x="2303" y="1728">0.88</text><text class="ll" x="2303" y="1758">0.91</text><text class="ll" x="2303" y="1789">0.89</text>
<text class="ll" x="2295" y="1979">0.83</text><text class="ll" x="2295" y="2010">0.84</text><text class="ll" x="2295" y="2040">0.77</text><text class="ll" x="2295" y="2071">0.80</text><text class="ll" x="2295" y="2102">0.85</text>
<text class="ll" x="2288" y="2235">0.93</text><text class="ll" x="2288" y="2265">0.88</text><text class="ll" x="2288" y="2296">0.87</text>
<text class="sm" transform="translate(1858,616) rotate(90)">.30</text><text class="sm" transform="translate(1858,1044) rotate(90)">.54</text><text class="sm" transform="translate(1858,1655) rotate(90)">.34</text><text class="sm" transform="translate(1858,1716) rotate(90)">.31</text><text class="sm" transform="translate(1858,2022) rotate(90)">.59</text><text class="sm" transform="translate(1858,2327) rotate(90)">.35</text>
</g>
<g id="ac-latent" transform="translate(1600,-15)">
<g id="ac-PE"><ellipse class="l" cx="858" cy="634" rx="40" ry="32"/><text class="lt" x="858" y="645">PE</text></g>
<g id="ac-EE"><ellipse class="l" cx="864" cy="784" rx="40" ry="32"/><text class="lt" x="864" y="795">EE</text></g>
<g id="ac-SI"><ellipse class="l" cx="880" cy="1034" rx="40" ry="32"/><text class="lt" x="880" y="1045">SI</text></g>
<g id="ac-FC"><ellipse class="l" cx="890" cy="1235" rx="40" ry="32"/><text class="lt" x="890" y="1246">FC</text></g>
<g id="ac-PR"><ellipse class="l" cx="890" cy="1446" rx="40" ry="32"/><text class="lt" x="890" y="1457">PR</text></g>
<g id="ac-TR"><ellipse class="l" cx="896" cy="1747" rx="40" ry="32"/><text class="lt" x="896" y="1758">TR</text></g>
<g id="ac-HC"><ellipse class="l" cx="880" cy="2067" rx="40" ry="32"/><text class="lt" x="880" y="2078">HC</text></g>
<g id="ac-BI"><ellipse class="l" cx="867" cy="2272" rx="40" ry="32"/><text class="lt" x="867" y="2283">BI</text></g>
<g class="corr">
<text class="cl" transform="translate(920,709) rotate(90)">0.86</text><text class="cl" transform="translate(1018,834) rotate(90)">0.97</text><text class="cl" transform="translate(1095,935) rotate(90)">0.81</text><text class="cl" transform="translate(1171,1040) rotate(90)">0.84</text><text class="cl" transform="translate(1283,1190) rotate(90)">0.86</text><text class="cl" transform="translate(1390,1350) rotate(90)">0.77</text><text class="cl" transform="translate(1457,1453) rotate(90)">0.89</text>
<text class="cl" transform="translate(967,909) rotate(90)">0.89</text><text class="cl" transform="translate(1044,1010) rotate(90)">0.95</text><text class="cl" transform="translate(1120,1115) rotate(90)">0.41</text><text class="cl" transform="translate(1232,1266) rotate(90)">0.83</text><text class="cl" transform="translate(1339,1426) rotate(90)">0.76</text><text class="cl" transform="translate(1407,1528) rotate(90)">0.82</text>
<text class="cl" transform="translate(962,1135) rotate(90)">0.85</text><text class="cl" transform="translate(1038,1240) rotate(90)">0.35</text><text class="cl" transform="translate(1150,1391) rotate(90)">0.90</text><text class="cl" transform="translate(1257,1551) rotate(90)">0.83</text><text class="cl" transform="translate(1325,1653) rotate(90)">0.93</text>
<text class="cl" transform="translate(971,1341) rotate(90)">0.39</text><text class="cl" transform="translate(1082,1491) rotate(90)">0.84</text><text class="cl" transform="translate(1190,1651) rotate(90)">0.78</text><text class="cl" transform="translate(1257,1754) rotate(90)">0.81</text>
<text class="cl" transform="translate(1006,1597) rotate(90)">0.38</text><text class="cl" transform="translate(1114,1757) rotate(90)">0.39</text><text class="cl" transform="translate(1181,1859) rotate(90)">0.36</text>
<text class="cl" transform="translate(1008,1907) rotate(90)">0.85</text><text class="cl" transform="translate(1076,2010) rotate(90)">0.94</text><text class="cl" transform="translate(953,2170) rotate(90)">0.88</text>
</g>
</g>
</g>

<!-- ===== Panel B Japan ===== -->
<g id="BJ">
<g id="bj-e"><circle class="e" cx="86" cy="3050" r="28"/><text class="et" x="86" y="3059">e15</text><circle class="e" cx="86" cy="3114" r="28"/><text class="et" x="86" y="3123">e16</text><circle class="e" cx="86" cy="3177" r="28"/><text class="et" x="86" y="3186">e17</text><circle class="e" cx="86" cy="3241" r="28"/><text class="et" x="86" y="3250">e21</text><circle class="e" cx="86" cy="3305" r="28"/><text class="et" x="86" y="3314">e20</text><circle class="e" cx="86" cy="3368" r="28"/><text class="et" x="86" y="3377">e19</text><circle class="e" cx="86" cy="3432" r="28"/><text class="et" x="86" y="3441">e18</text><circle class="e" cx="86" cy="3496" r="28"/><text class="et" x="86" y="3505">e1</text><circle class="e" cx="86" cy="3560" r="28"/><text class="et" x="86" y="3569">e2</text><circle class="e" cx="86" cy="3623" r="28"/><text class="et" x="86" y="3632">e3</text><circle class="e" cx="86" cy="3741" r="28"/><text class="et" x="86" y="3750">e5</text><circle class="e" cx="86" cy="3804" r="28"/><text class="et" x="86" y="3813">e6</text><circle class="e" cx="86" cy="3868" r="28"/><text class="et" x="86" y="3877">e7</text><circle class="e" cx="86" cy="3931" r="28"/><text class="et" x="86" y="3940">e8</text><circle class="e" cx="86" cy="3995" r="28"/><text class="et" x="86" y="4004">e9</text><circle class="e" cx="86" cy="4058" r="28"/><text class="et" x="86" y="4067">e10</text><circle class="e" cx="86" cy="4121" r="28"/><text class="et" x="86" y="4130">e22</text><circle class="e" cx="86" cy="4185" r="28"/><text class="et" x="86" y="4194">e11</text><circle class="e" cx="86" cy="4248" r="28"/><text class="et" x="86" y="4257">e12</text><circle class="e" cx="86" cy="4312" r="28"/><text class="et" x="86" y="4321">e13</text><circle class="e" cx="86" cy="4375" r="28"/><text class="et" x="86" y="4384">e14</text><circle class="e" cx="86" cy="4439" r="28"/><text class="et" x="86" y="4448">e23</text><circle class="e" cx="86" cy="4502" r="28"/><text class="et" x="86" y="4511">e24</text><circle class="e" cx="86" cy="4566" r="28"/><text class="et" x="86" y="4575">e25</text><circle class="e" cx="86" cy="4629" r="28"/><text class="et" x="86" y="4638">e26</text><circle class="e" cx="86" cy="4692" r="28"/><text class="et" x="86" y="4701">e27</text><circle class="e" cx="86" cy="4756" r="28"/><text class="et" x="86" y="4765">e28</text><circle class="e" cx="86" cy="4819" r="28"/><text class="et" x="86" y="4828">e29</text><circle class="e" cx="86" cy="4883" r="28"/><text class="et" x="86" y="4892">e30</text><circle class="e" cx="86" cy="4944" r="28"/><text class="et" x="86" y="4953">e31</text></g>
<g id="bj-boxes">
<rect class="b" x="310" y="3021" width="186" height="58"/><text class="it" x="434" y="3061">PE1</text><text class="r" x="494" y="3066">0.88</text>
<rect class="b" x="310" y="3085" width="186" height="58"/><text class="it" x="434" y="3125">PE2</text><text class="r" x="494" y="3130">0.90</text>
<rect class="b" x="310" y="3148" width="186" height="58"/><text class="it" x="434" y="3188">PE3</text><text class="r" x="494" y="3193">0.62</text>
<rect class="b" x="310" y="3212" width="186" height="58"/><text class="it" x="434" y="3252">EE1</text><text class="r" x="494" y="3257">0.73</text>
<rect class="b" x="310" y="3276" width="186" height="58"/><text class="it" x="434" y="3316">EE2</text><text class="r" x="494" y="3321">0.79</text>
<rect class="b" x="310" y="3339" width="186" height="58"/><text class="it" x="434" y="3379">EE3</text><text class="r" x="494" y="3384">0.69</text>
<rect class="b" x="310" y="3403" width="186" height="58"/><text class="it" x="434" y="3443">EE4</text><text class="r" x="494" y="3448">0.76</text>
<rect class="b" x="310" y="3467" width="186" height="58"/><text class="it" x="434" y="3507">SI1</text><text class="r" x="494" y="3512">0.87</text>
<rect class="b" x="310" y="3531" width="186" height="58"/><text class="it" x="434" y="3571">SI2</text><text class="r" x="494" y="3576">0.81</text>
<rect class="b" x="310" y="3594" width="186" height="58"/><text class="it" x="434" y="3634">SI3</text>
<rect class="b" x="310" y="3712" width="186" height="58"/><text class="it" x="434" y="3752">FC2</text><text class="r" x="494" y="3757">0.82</text>
<rect class="b" x="310" y="3775" width="186" height="58"/><text class="it" x="434" y="3815">FC3</text><text class="r" x="494" y="3820">0.75</text>
<rect class="b" x="310" y="3839" width="186" height="58"/><text class="it" x="434" y="3879">PR1</text><text class="r" x="494" y="3884">0.88</text>
<rect class="b" x="310" y="3902" width="186" height="58"/><text class="it" x="434" y="3942">PR2</text><text class="r" x="494" y="3947">0.85</text>
<rect class="b" x="310" y="3966" width="186" height="58"/><text class="it" x="434" y="4006">PR3</text><text class="r" x="494" y="4011">0.83</text>
<rect class="b" x="310" y="4029" width="186" height="58"/><text class="it" x="434" y="4069">PR4</text><text class="r" x="494" y="4074">0.85</text>
<rect class="b" x="310" y="4092" width="186" height="58"/><text class="it" x="434" y="4132">PR5</text><text class="r" x="494" y="4137">0.39</text>
<rect class="b" x="310" y="4156" width="186" height="58"/><text class="it" x="434" y="4196">TR1</text><text class="r" x="494" y="4201">0.51</text>
<rect class="b" x="310" y="4219" width="186" height="58"/><text class="it" x="434" y="4259">TR2</text><text class="r" x="494" y="4264">0.74</text>
<rect class="b" x="310" y="4283" width="186" height="58"/><text class="it" x="434" y="4323">TR3</text><text class="r" x="494" y="4328">0.84</text>
<rect class="b" x="310" y="4346" width="186" height="58"/><text class="it" x="434" y="4386">TR4</text><text class="r" x="494" y="4391">0.69</text>
<rect class="b" x="310" y="4410" width="186" height="58"/><text class="it" x="434" y="4450">TR5</text><text class="r" x="494" y="4455">0.62</text>
<rect class="b" x="310" y="4473" width="186" height="58"/><text class="it" x="434" y="4513">HC1</text><text class="r" x="494" y="4518">0.71</text>
<rect class="b" x="310" y="4537" width="186" height="58"/><text class="it" x="434" y="4577">HC2</text><text class="r" x="494" y="4582">0.54</text>
<rect class="b" x="310" y="4600" width="186" height="58"/><text class="it" x="434" y="4640">HC3</text><text class="r" x="494" y="4645">0.60</text>
<rect class="b" x="310" y="4663" width="186" height="58"/><text class="it" x="434" y="4703">HC4</text><text class="r" x="494" y="4708">0.70</text>
<rect class="b" x="310" y="4727" width="186" height="58"/><text class="it" x="434" y="4767">HC5</text><text class="r" x="494" y="4772">0.86</text>
<rect class="b" x="310" y="4790" width="186" height="58"/><text class="it" x="434" y="4830">BI1</text><text class="r" x="494" y="4835">0.76</text>
<rect class="b" x="310" y="4854" width="186" height="58"/><text class="it" x="434" y="4894">BI2</text><text class="r" x="494" y="4899">0.75</text>
<rect class="b" x="310" y="4915" width="186" height="56"/><text class="it" x="434" y="4955">BI3</text>
<text class="sm" x="470" y="2998">0.46</text><text class="sm" x="458" y="3704">0.55</text>
</g>
<g id="bj-ll">
<text class="ll" x="655" y="3098">0.68</text><text class="ll" x="655" y="3130">0.94</text><text class="ll" x="655" y="3161">0.95</text>
<text class="ll" x="658" y="3268">0.79</text><text class="ll" x="658" y="3300">0.86</text><text class="ll" x="658" y="3332">0.89</text><text class="ll" x="658" y="3364">0.83</text>
<text class="ll" x="666" y="3521">0.87</text><text class="ll" x="666" y="3553">0.93</text><text class="ll" x="666" y="3584">0.90</text>
<text class="ll" x="671" y="3744">0.74</text><text class="ll" x="671" y="3775">0.91</text>
<text class="ll" x="671" y="3913">0.86</text><text class="ll" x="671" y="3944">0.94</text><text class="ll" x="671" y="3976">0.92</text><text class="ll" x="671" y="4008">0.91</text><text class="ll" x="671" y="4039">0.92</text>
<text class="ll" x="674" y="4222">0.62</text><text class="ll" x="674" y="4253">0.72</text><text class="ll" x="674" y="4285">0.86</text><text class="ll" x="674" y="4317">0.92</text><text class="ll" x="674" y="4349">0.83</text>
<text class="ll" x="666" y="4540">0.79</text><text class="ll" x="666" y="4572">0.84</text><text class="ll" x="666" y="4604">0.73</text><text class="ll" x="666" y="4635">0.78</text><text class="ll" x="666" y="4667">0.83</text>
<text class="ll" x="659" y="4801">0.93</text><text class="ll" x="659" y="4833">0.87</text><text class="ll" x="659" y="4865">0.86</text>
<text class="sm" transform="translate(158,3146) rotate(90)">.15</text><text class="sm" transform="translate(158,3592) rotate(90)">-.18</text><text class="sm" transform="translate(158,4216) rotate(90)">.28</text><text class="sm" transform="translate(158,4280) rotate(90)">.31</text><text class="sm" transform="translate(158,4534) rotate(90)">-.38</text><text class="sm" transform="translate(158,4914) rotate(90)">.07</text>
</g>
<g id="bj-latent" transform="translate(-5,2535)">
<g id="bj-PE"><ellipse class="l" cx="858" cy="634" rx="40" ry="32"/><text class="lt" x="858" y="645">PE</text></g>
<g id="bj-EE"><ellipse class="l" cx="864" cy="784" rx="40" ry="32"/><text class="lt" x="864" y="795">EE</text></g>
<g id="bj-SI"><ellipse class="l" cx="880" cy="1034" rx="40" ry="32"/><text class="lt" x="880" y="1045">SI</text></g>
<g id="bj-FC"><ellipse class="l" cx="890" cy="1235" rx="40" ry="32"/><text class="lt" x="890" y="1246">FC</text></g>
<g id="bj-PR"><ellipse class="l" cx="890" cy="1446" rx="40" ry="32"/><text class="lt" x="890" y="1457">PR</text></g>
<g id="bj-TR"><ellipse class="l" cx="896" cy="1747" rx="40" ry="32"/><text class="lt" x="896" y="1758">TR</text></g>
<g id="bj-HC"><ellipse class="l" cx="880" cy="2067" rx="40" ry="32"/><text class="lt" x="880" y="2078">HC</text></g>
<g id="bj-BI"><ellipse class="l" cx="867" cy="2272" rx="40" ry="32"/><text class="lt" x="867" y="2283">BI</text></g>
<g class="corr">
<text class="cl" transform="translate(920,709) rotate(90)">0.47</text><text class="cl" transform="translate(1018,834) rotate(90)">0.53</text><text class="cl" transform="translate(1095,935) rotate(90)">0.38</text><text class="cl" transform="translate(1171,1040) rotate(90)">0.66</text><text class="cl" transform="translate(1283,1190) rotate(90)">0.46</text><text class="cl" transform="translate(1390,1350) rotate(90)">0.35</text><text class="cl" transform="translate(1457,1453) rotate(90)">0.48</text>
<text class="cl" transform="translate(967,909) rotate(90)">0.35</text><text class="cl" transform="translate(1044,1010) rotate(90)">0.49</text><text class="cl" transform="translate(1120,1115) rotate(90)">-.02</text><text class="cl" transform="translate(1232,1266) rotate(90)">0.43</text><text class="cl" transform="translate(1339,1426) rotate(90)">0.39</text><text class="cl" transform="translate(1407,1528) rotate(90)">0.50</text>
<text class="cl" transform="translate(962,1135) rotate(90)">0.55</text><text class="cl" transform="translate(1038,1240) rotate(90)">0.11</text><text class="cl" transform="translate(1150,1391) rotate(90)">0.52</text><text class="cl" transform="translate(1257,1551) rotate(90)">0.38</text><text class="cl" transform="translate(1325,1653) rotate(90)">0.41</text>
<text class="cl" transform="translate(971,1341) rotate(90)">0.15</text><text class="cl" transform="translate(1082,1491) rotate(90)">0.49</text><text class="cl" transform="translate(1190,1651) rotate(90)">0.29</text><text class="cl" transform="translate(1257,1754) rotate(90)">0.39</text>
<text class="cl" transform="translate(1006,1597) rotate(90)">0.29</text><text class="cl" transform="translate(1114,1757) rotate(90)">0.12</text><text class="cl" transform="translate(1181,1859) rotate(90)">0.09</text>
<text class="cl" transform="translate(1008,1907) rotate(90)">0.46</text><text class="cl" transform="translate(1076,2010) rotate(90)">0.52</text><text class="cl" transform="translate(953,2170) rotate(90)">0.38</text>
</g>
</g>
</g>

<!-- ===== Panel B China ===== -->
<g id="BC">
<g id="bc-e"><circle class="e" cx="1731" cy="3040" r="28"/><text class="et" x="1731" y="3049">e15</text><circle class="e" cx="1731" cy="3102" r="28"/><text class="et" x="1731" y="3111">e16</text><circle class="e" cx="1731" cy="3164" r="28"/><text class="et" x="1731" y="3173">e17</text><circle class="e" cx="1731" cy="3227" r="28"/><text class="et" x="1731" y="3236">e21</text><circle class="e" cx="1731" cy="3289" r="28"/><text class="et" x="1731" y="3298">e20</text><circle class="e" cx="1731" cy="3351" r="28"/><text class="et" x="1731" y="3360">e19</text><circle class="e" cx="1731" cy="3413" r="28"/><text class="et" x="1731" y="3422">e18</text><circle class="e" cx="1731" cy="3476" r="28"/><text class="et" x="1731" y="3485">e1</text><circle class="e" cx="1731" cy="3538" r="28"/><text class="et" x="1731" y="3547">e2</text><circle class="e" cx="1731" cy="3600" r="28"/><text class="et" x="1731" y="3609">e3</text><circle class="e" cx="1731" cy="3722" r="28"/><text class="et" x="1731" y="3731">e5</text><circle class="e" cx="1731" cy="3783" r="28"/><text class="et" x="1731" y="3792">e6</text><circle class="e" cx="1731" cy="3845" r="28"/><text class="et" x="1731" y="3854">e7</text><circle class="e" cx="1731" cy="3906" r="28"/><text class="et" x="1731" y="3915">e8</text><circle class="e" cx="1731" cy="3967" r="28"/><text class="et" x="1731" y="3976">e9</text><circle class="e" cx="1731" cy="4028" r="28"/><text class="et" x="1731" y="4037">e10</text><circle class="e" cx="1731" cy="4090" r="28"/><text class="et" x="1731" y="4099">e22</text><circle class="e" cx="1731" cy="4151" r="28"/><text class="et" x="1731" y="4160">e11</text><circle class="e" cx="1731" cy="4212" r="28"/><text class="et" x="1731" y="4221">e12</text><circle class="e" cx="1731" cy="4273" r="28"/><text class="et" x="1731" y="4282">e13</text><circle class="e" cx="1731" cy="4335" r="28"/><text class="et" x="1731" y="4344">e14</text><circle class="e" cx="1731" cy="4396" r="28"/><text class="et" x="1731" y="4405">e23</text><circle class="e" cx="1731" cy="4457" r="28"/><text class="et" x="1731" y="4466">e24</text><circle class="e" cx="1731" cy="4519" r="28"/><text class="et" x="1731" y="4528">e25</text><circle class="e" cx="1731" cy="4580" r="28"/><text class="et" x="1731" y="4589">e26</text><circle class="e" cx="1731" cy="4641" r="28"/><text class="et" x="1731" y="4650">e27</text><circle class="e" cx="1731" cy="4702" r="28"/><text class="et" x="1731" y="4711">e28</text><circle class="e" cx="1731" cy="4764" r="28"/><text class="et" x="1731" y="4773">e29</text><circle class="e" cx="1731" cy="4825" r="28"/><text class="et" x="1731" y="4834">e30</text><circle class="e" cx="1731" cy="4886" r="28"/><text class="et" x="1731" y="4895">e31</text></g>
<g id="bc-boxes">
<rect class="b" x="1930" y="3012" width="172" height="56"/><text class="it" x="2040" y="3051">PE1</text><text class="r" x="2100" y="3056">0.90</text>
<rect class="b" x="1930" y="3074" width="172" height="56"/><text class="it" x="2040" y="3113">PE2</text><text class="r" x="2100" y="3118">0.92</text>
<rect class="b" x="1930" y="3136" width="172" height="56"/><text class="it" x="2040" y="3175">PE3</text><text class="r" x="2100" y="3180">0.72</text>
<rect class="b" x="1930" y="3199" width="172" height="56"/><text class="it" x="2040" y="3238">EE1</text><text class="r" x="2100" y="3243">0.81</text>
<rect class="b" x="1930" y="3261" width="172" height="56"/><text class="it" x="2040" y="3300">EE2</text><text class="r" x="2100" y="3305">0.82</text>
<rect class="b" x="1930" y="3323" width="172" height="56"/><text class="it" x="2040" y="3362">EE3</text><text class="r" x="2100" y="3367">0.76</text>
<rect class="b" x="1930" y="3385" width="172" height="56"/><text class="it" x="2040" y="3424">EE4</text><text class="r" x="2100" y="3429">0.75</text>
<rect class="b" x="1930" y="3448" width="172" height="56"/><text class="it" x="2040" y="3487">SI1</text><text class="r" x="2100" y="3492">0.85</text>
<rect class="b" x="1930" y="3510" width="172" height="56"/><text class="it" x="2040" y="3549">SI2</text><text class="r" x="2100" y="3554">0.80</text>
<rect class="b" x="1930" y="3572" width="172" height="56"/><text class="it" x="2040" y="3611">SI3</text>
<rect class="b" x="1930" y="3694" width="172" height="56"/><text class="it" x="2040" y="3733">FC2</text><text class="r" x="2100" y="3738">0.81</text>
<rect class="b" x="1930" y="3755" width="172" height="56"/><text class="it" x="2040" y="3794">FC3</text><text class="r" x="2100" y="3799">0.77</text>
<rect class="b" x="1930" y="3817" width="172" height="56"/><text class="it" x="2040" y="3856">PR1</text><text class="r" x="2100" y="3861">0.88</text>
<rect class="b" x="1930" y="3878" width="172" height="56"/><text class="it" x="2040" y="3917">PR2</text><text class="r" x="2100" y="3922">0.85</text>
<rect class="b" x="1930" y="3939" width="172" height="56"/><text class="it" x="2040" y="3978">PR3</text><text class="r" x="2100" y="3983">0.83</text>
<rect class="b" x="1930" y="4000" width="172" height="56"/><text class="it" x="2040" y="4039">PR4</text><text class="r" x="2100" y="4044">0.85</text>
<rect class="b" x="1930" y="4062" width="172" height="56"/><text class="it" x="2040" y="4101">PR5</text><text class="r" x="2100" y="4106">0.65</text>
<rect class="b" x="1930" y="4123" width="172" height="56"/><text class="it" x="2040" y="4162">TR1</text><text class="r" x="2100" y="4167">0.73</text>
<rect class="b" x="1930" y="4184" width="172" height="56"/><text class="it" x="2040" y="4223">TR2</text><text class="r" x="2100" y="4228">0.78</text>
<rect class="b" x="1930" y="4245" width="172" height="56"/><text class="it" x="2040" y="4284">TR3</text><text class="r" x="2100" y="4289">0.82</text>
<rect class="b" x="1930" y="4307" width="172" height="56"/><text class="it" x="2040" y="4346">TR4</text><text class="r" x="2100" y="4351">0.79</text>
<rect class="b" x="1930" y="4368" width="172" height="56"/><text class="it" x="2040" y="4407">TR5</text><text class="r" x="2100" y="4412">0.65</text>
<rect class="b" x="1930" y="4429" width="172" height="56"/><text class="it" x="2040" y="4468">HC1</text><text class="r" x="2100" y="4473">0.70</text>
<rect class="b" x="1930" y="4491" width="172" height="56"/><text class="it" x="2040" y="4530">HC2</text><text class="r" x="2100" y="4535">0.59</text>
<rect class="b" x="1930" y="4552" width="172" height="56"/><text class="it" x="2040" y="4591">HC3</text><text class="r" x="2100" y="4596">0.65</text>
<rect class="b" x="1930" y="4613" width="172" height="56"/><text class="it" x="2040" y="4652">HC4</text><text class="r" x="2100" y="4657">0.72</text>
<rect class="b" x="1930" y="4674" width="172" height="56"/><text class="it" x="2040" y="4713">HC5</text><text class="r" x="2100" y="4718">0.86</text>
<rect class="b" x="1930" y="4736" width="172" height="56"/><text class="it" x="2040" y="4775">BI1</text><text class="r" x="2100" y="4780">0.77</text>
<rect class="b" x="1930" y="4797" width="172" height="56"/><text class="it" x="2040" y="4836">BI2</text><text class="r" x="2100" y="4841">0.75</text>
<rect class="b" x="1930" y="4858" width="172" height="56"/><text class="it" x="2040" y="4897">BI3</text>
<text class="sm" x="1987" y="2990">0.73</text><text class="sm" x="1987" y="3682">0.67</text>
</g>
<g id="bc-ll">
<text class="ll" x="2238" y="3078">0.85</text><text class="ll" x="2238" y="3109">0.95</text><text class="ll" x="2238" y="3140">0.96</text>
<text class="ll" x="2241" y="3246">0.85</text><text class="ll" x="2241" y="3277">0.90</text><text class="ll" x="2241" y="3308">0.90</text><text class="ll" x="2241" y="3339">0.87</text>
<text class="ll" x="2249" y="3496">0.89</text><text class="ll" x="2249" y="3527">0.92</text><text class="ll" x="2249" y="3558">0.89</text>
<text class="ll" x="2254" y="3719">0.82</text><text class="ll" x="2254" y="3750">0.90</text>
<text class="ll" x="2254" y="3886">0.88</text><text class="ll" x="2254" y="3917">0.94</text><text class="ll" x="2254" y="3947">0.92</text><text class="ll" x="2254" y="3978">0.91</text><text class="ll" x="2254" y="4009">0.92</text>
<text class="ll" x="2257" y="4190">0.81</text><text class="ll" x="2257" y="4220">0.88</text><text class="ll" x="2257" y="4251">0.88</text><text class="ll" x="2257" y="4282">0.91</text><text class="ll" x="2257" y="4312">0.89</text>
<text class="ll" x="2249" y="4503">0.83</text><text class="ll" x="2249" y="4534">0.83</text><text class="ll" x="2249" y="4564">0.77</text><text class="ll" x="2249" y="4595">0.80</text><text class="ll" x="2249" y="4625">0.85</text>
<text class="ll" x="2242" y="4758">0.93</text><text class="ll" x="2242" y="4789">0.86</text><text class="ll" x="2242" y="4820">0.87</text>
<text class="sm" transform="translate(1803,3133) rotate(90)">.30</text><text class="sm" transform="translate(1803,3569) rotate(90)">.53</text><text class="sm" transform="translate(1803,4181) rotate(90)">.34</text><text class="sm" transform="translate(1803,4242) rotate(90)">.31</text><text class="sm" transform="translate(1803,4549) rotate(90)">.59</text><text class="sm" transform="translate(1803,4855) rotate(90)">.30</text>
</g>
<g id="bc-latent" transform="translate(1555,2505)">
<g id="bc-PE"><ellipse class="l" cx="858" cy="634" rx="40" ry="32"/><text class="lt" x="858" y="645">PE</text></g>
<g id="bc-EE"><ellipse class="l" cx="864" cy="784" rx="40" ry="32"/><text class="lt" x="864" y="795">EE</text></g>
<g id="bc-SI"><ellipse class="l" cx="880" cy="1034" rx="40" ry="32"/><text class="lt" x="880" y="1045">SI</text></g>
<g id="bc-FC"><ellipse class="l" cx="890" cy="1235" rx="40" ry="32"/><text class="lt" x="890" y="1246">FC</text></g>
<g id="bc-PR"><ellipse class="l" cx="890" cy="1446" rx="40" ry="32"/><text class="lt" x="890" y="1457">PR</text></g>
<g id="bc-TR"><ellipse class="l" cx="896" cy="1747" rx="40" ry="32"/><text class="lt" x="896" y="1758">TR</text></g>
<g id="bc-HC"><ellipse class="l" cx="880" cy="2067" rx="40" ry="32"/><text class="lt" x="880" y="2078">HC</text></g>
<g id="bc-BI"><ellipse class="l" cx="867" cy="2272" rx="40" ry="32"/><text class="lt" x="867" y="2283">BI</text></g>
<g class="corr">
<text class="cl" transform="translate(920,709) rotate(90)">0.86</text><text class="cl" transform="translate(1018,834) rotate(90)">0.97</text><text class="cl" transform="translate(1095,935) rotate(90)">0.81</text><text class="cl" transform="translate(1171,1040) rotate(90)">0.84</text><text class="cl" transform="translate(1283,1190) rotate(90)">0.86</text><text class="cl" transform="translate(1390,1350) rotate(90)">0.77</text><text class="cl" transform="translate(1457,1453) rotate(90)">0.89</text>
<text class="cl" transform="translate(967,909) rotate(90)">0.89</text><text class="cl" transform="translate(1044,1010) rotate(90)">0.92</text><text class="cl" transform="translate(1120,1115) rotate(90)">0.41</text><text class="cl" transform="translate(1232,1266) rotate(90)">0.83</text><text class="cl" transform="translate(1339,1426) rotate(90)">0.76</text><text class="cl" transform="translate(1407,1528) rotate(90)">0.82</text>
<text class="cl" transform="translate(962,1135) rotate(90)">0.87</text><text class="cl" transform="translate(1038,1240) rotate(90)">0.35</text><text class="cl" transform="translate(1150,1391) rotate(90)">0.90</text><text class="cl" transform="translate(1257,1551) rotate(90)">0.83</text><text class="cl" transform="translate(1325,1653) rotate(90)">0.93</text>
<text class="cl" transform="translate(971,1341) rotate(90)">0.35</text><text class="cl" transform="translate(1082,1491) rotate(90)">0.85</text><text class="cl" transform="translate(1190,1651) rotate(90)">0.78</text><text class="cl" transform="translate(1257,1754) rotate(90)">0.80</text>
<text class="cl" transform="translate(1006,1597) rotate(90)">0.39</text><text class="cl" transform="translate(1114,1757) rotate(90)">0.39</text><text class="cl" transform="translate(1181,1859) rotate(90)">0.36</text>
<text class="cl" transform="translate(1008,1907) rotate(90)">0.85</text><text class="cl" transform="translate(1076,2010) rotate(90)">0.94</text><text class="cl" transform="translate(953,2170) rotate(90)">0.88</text>
</g>
</g>
</g>
</svg>
